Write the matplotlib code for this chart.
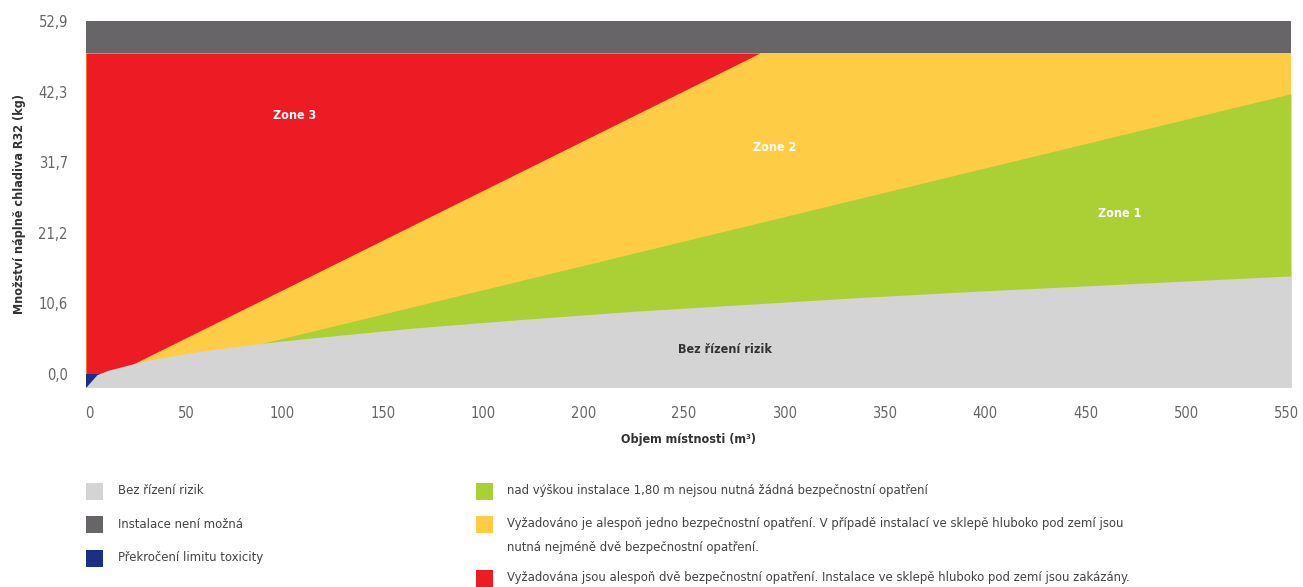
#!/usr/bin/env python3
"""R32 charge zones vs room volume."""

import matplotlib

matplotlib.use("Agg")
import matplotlib.pyplot as plt
import matplotlib.transforms as mtransforms
from matplotlib import font_manager
from matplotlib.patches import Rectangle
import numpy as np

# boundaries (x = room volume, y = charge in kg)
grey_x = [0, 5, 10, 20, 30, 50, 75, 100, 150, 200, 250, 300, 350, 400, 450, 500, 550]
grey_y = [-1.95, -0.1, 0.55, 1.4, 2.2, 3.3, 4.4, 5.3, 6.9, 8.2, 9.4, 10.4, 11.4, 12.3, 13.1, 13.9, 14.7]
green_x = [0, 550]
green_y = [-1.8, 42.0]
red_x = [0, 307.6]
red_y = [-2.0, 48.1]
blue_x = [0, 8]
zone_limit = 48.1
y_top = 52.9
y_bottom = -1.95

xtick_labels = ["0", "50", "100", "150", "100", "200", "250", "300", "350",
                "400", "450", "500", "550"]
ytick_vals = [0, 10.58, 21.16, 31.74, 42.32, 52.9]
ytick_labels = ["0,0", "10,6", "21,2", "31,7", "42,3", "52,9"]

C_LIGHT = "#d4d4d4"
C_DARK = "#676567"
C_BLUE = "#1b2f85"
C_GREEN = "#abd035"
C_YELLOW = "#fecd45"
C_RED = "#ed1c24"

legend_left = [
    (C_LIGHT, "Bez řízení rizik"),
    (C_DARK, "Instalace není možná"),
    (C_BLUE, "Překročení limitu toxicity"),
]
legend_right = [
    (C_GREEN, "nad výškou instalace 1,80 m nejsou nutná žádná bezpečnostní opatření"),
    (C_YELLOW, "Vyžadováno je alespoň jedno bezpečnostní opatření. V případě instalací ve sklepě hluboko pod zemí jsou\n"
               "nutná nejméně dvě bezpečnostní opatření."),
    (C_RED, "Vyžadována jsou alespoň dvě bezpečnostní opatření. Instalace ve sklepě hluboko pod zemí jsou zakázány."),
]

# pick a narrow face if one is around
fonts = font_manager.fontManager.ttflist
names = {f.name for f in fonts}
stretch = "normal"
if "Liberation Sans Narrow" in names:
    family = "Liberation Sans Narrow"
elif any(f.name == "DejaVu Sans" and str(f.stretch) in ("condensed", "semi-condensed")
         for f in fonts):
    family = "DejaVu Sans"
    stretch = "condensed"
else:
    family = "Roboto"
plt.rcParams["font.family"] = [family, "DejaVu Sans"]
plt.rcParams["font.stretch"] = stretch
k = 1.0 if stretch == "condensed" or family != "Roboto" else 0.9

W, H = 1303, 587
fig = plt.figure(figsize=(W / 100, H / 100), dpi=100)
ax = fig.add_axes([86 / W, 1 - 387 / H, (1291 - 86) / W, (387 - 21) / H])

ax.fill_between([0, 550], y_bottom, zone_limit, color=C_YELLOW, lw=0)
ax.fill_between(green_x, y_bottom, green_y, color=C_GREEN, lw=0)
ax.fill_between(red_x, red_y, zone_limit, color=C_RED, lw=0)
ax.fill_between(blue_x, y_bottom, 0, color=C_BLUE, lw=0)
ax.fill_between(grey_x, y_bottom, grey_y, color=C_LIGHT, lw=0)
ax.fill_between([0, 550], zone_limit, y_top, color=C_DARK, lw=0)

ax.set_xlim(0, 550)
ax.set_ylim(y_bottom, y_top)
for s in ax.spines.values():
    s.set_visible(False)

tick_fs = 10.5 * k
bold_fs = 9 * k
leg_fs = 9.4 * k

ax.set_xticks(np.linspace(0, 550, len(xtick_labels)))
ax.set_xticklabels(xtick_labels, ha="right")
ax.set_yticks(ytick_vals)
ax.set_yticklabels(ytick_labels)
ax.tick_params(axis="both", length=0, labelsize=tick_fs, colors="#666666")
ax.tick_params(axis="x", pad=14)
ax.tick_params(axis="y", pad=13)
# x labels in the original sit right-aligned a little past each tick
offset = mtransforms.ScaledTranslation(0.08, 0, fig.dpi_scale_trans)
for lab in ax.get_xticklabels():
    lab.set_transform(lab.get_transform() + offset)

ax.set_xlabel("Objem místnosti (m³)", fontsize=bold_fs, fontweight="bold",
              color="#333333", labelpad=8)
ax.set_ylabel("Množství náplně chladiva R32 (kg)", fontsize=bold_fs, fontweight="bold",
              color="#333333", labelpad=9)

zone_kw = dict(color="white", fontsize=bold_fs, fontweight="bold", ha="center", va="center")
ax.text(95.4, 38.8, "Zone 3", **zone_kw)
ax.text(314.5, 34.0, "Zone 2", **zone_kw)
ax.text(472, 24.1, "Zone 1", **zone_kw)
ax.text(291.6, 3.6, "Bez řízení rizik", color="#333333", fontsize=bold_fs,
        fontweight="bold", ha="center", va="center")

# legend drawn by hand below the chart
sq = 17
left_rows = [491, 524, 558]
for (col, txt), yc in zip(legend_left, left_rows):
    fig.patches.append(Rectangle((86 / W, 1 - (yc + sq / 2) / H), sq / W, sq / H,
                                 transform=fig.transFigure, color=col, lw=0))
    fig.text(118 / W, 1 - yc / H, txt, fontsize=leg_fs, color="#444444", va="center")

right_rows = [491, 524, 578]
for (col, txt), yc in zip(legend_right, right_rows):
    fig.patches.append(Rectangle((476 / W, 1 - (yc + sq / 2) / H), sq / W, sq / H,
                                 transform=fig.transFigure, color=col, lw=0))
    fig.text(507 / W, 1 - (yc - 7) / H, txt, fontsize=leg_fs, color="#444444",
             va="top", linespacing=2.05)

fig.savefig("out.png", dpi=100)
